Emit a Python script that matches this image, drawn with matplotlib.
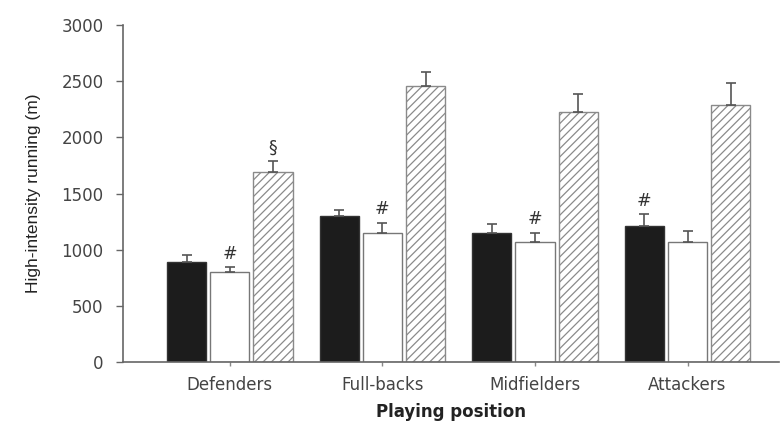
import numpy as np
import matplotlib
matplotlib.use("Agg")
import matplotlib.pyplot as plt

# Distancia a alta intensidad por posición (media + DE)
posiciones = ["Defenders", "Full-backs", "Midfielders", "Attackers"]
serie_a = [890, 1300, 1150, 1215]
serie_a_de = [65, 50, 75, 100]
serie_b = [800, 1150, 1070, 1065]
serie_b_de = [45, 90, 80, 100]
serie_c = [1690, 2460, 2230, 2285]
serie_c_de = [100, 125, 155, 195]

# Marcas de significación: (posición, serie, símbolo)
marcas = [(0, 1, "#"), (1, 1, "#"), (2, 1, "#"), (3, 0, "#"), (0, 2, "§")]

plt.rcParams["hatch.linewidth"] = 0.9
plt.rcParams["font.family"] = "DejaVu Sans"

fig = plt.figure(figsize=(7.81, 4.21), dpi=100)
ax = fig.add_axes([0.1575, 0.140, 0.84, 0.8006])

x = np.arange(len(posiciones))
ancho = 0.257
paso = 0.283
gris = "#777777"

series = [
    (serie_a, serie_a_de, dict(color="#1c1c1c", edgecolor="#333333")),
    (serie_b, serie_b_de, dict(color="white", edgecolor=gris)),
    (serie_c, serie_c_de, dict(color="white", edgecolor="#8a8a8a", hatch="////")),
]

for i, (vals, de, estilo) in enumerate(series):
    xs = x + (i - 1) * paso
    ax.bar(xs, vals, width=ancho, linewidth=1.0, **estilo)
    ax.errorbar(xs, vals, yerr=[np.zeros(len(vals)), de], fmt="none",
                ecolor="#555555", elinewidth=1.2, capsize=3.5, capthick=1.2)

todas = [series[0][:2], series[1][:2], series[2][:2]]
for p, s, simbolo in marcas:
    vals, de = todas[s]
    ax.text(x[p] + (s - 1) * paso, vals[p] + de[p] + 40, simbolo,
            ha="center", va="bottom", fontsize=12.5, color="#333333")

ax.set_ylim(0, 3000)
ax.set_xlim(-0.70, 3.60)
ax.set_yticks([0, 500, 1000, 1500, 2000, 2500, 3000])
ax.set_xticks(x)
ax.set_xticklabels(posiciones)

for lado in ["top", "right"]:
    ax.spines[lado].set_visible(False)
for lado in ["left", "bottom"]:
    ax.spines[lado].set_color("#666666")
    ax.spines[lado].set_linewidth(1.2)

ax.tick_params(axis="y", direction="out", length=5, width=1, colors="#666666",
               labelcolor="#444444", labelsize=12, pad=9)
ax.tick_params(axis="x", direction="out", length=3, width=1, colors="#888888",
               labelcolor="#444444", labelsize=12, pad=7)

ax.set_ylabel("High-intensity running (m)", fontsize=12.5, color="#222222",
              family="Liberation Sans")
ax.yaxis.set_label_coords(-0.125, 0.5)
ax.set_xlabel("Playing position", fontsize=12, fontweight="bold", color="#222222",
              va="center")
ax.xaxis.set_label_coords(0.5, -0.148)

fig.savefig("out.png", dpi=100)
